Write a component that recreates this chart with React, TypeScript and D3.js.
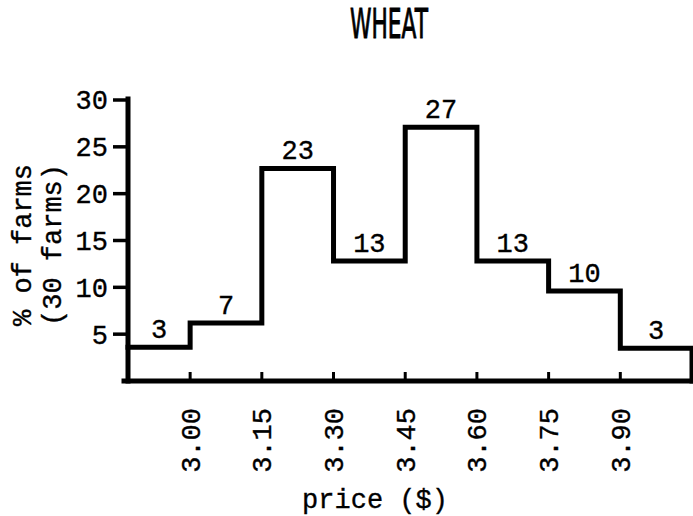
import * as d3 from 'd3';
import { useEffect, useRef } from 'react';

const WIDTH = 693;
const HEIGHT = 516;

// price breaks between the bins (tick positions on the x axis)
const PRICE_BREAKS = [3.0, 3.15, 3.3, 3.45, 3.6, 3.75, 3.9];
const PRICE_LABELS = ['3.00', '3.15', '3.30', '3.45', '3.60', '3.75', '3.90'];
// ends of the drawn axis (open-ended first and last bins)
const PRICE_MIN = 2.87;
const PRICE_MAX = 4.05;

// % of farms in each price bin, as drawn, and the numbers written over them
const BIN_PERCENT = [3.6, 6.2, 22.7, 12.8, 27.1, 12.8, 9.6, 3.5];
const BIN_LABELS = ['3', '7', '23', '13', '27', '13', '10', '3'];

const Y_TICKS = [5, 10, 15, 20, 25, 30];

const MONO = "'Liberation Mono', 'Courier New', monospace";
const TEXT_STROKE = 0.35;

const App: React.FC = () => {
    const svgRef = useRef<SVGSVGElement | null>(null);

    useEffect(() => {
        if (!svgRef.current) return;
        const svg = d3.select(svgRef.current);
        svg.selectAll('*').remove();

        const xScale = d3.scaleLinear().domain([PRICE_MIN, PRICE_MAX]).range([128, 692]);
        const yScale = d3.scaleLinear().domain([0, 30]).range([381, 100]);

        const binStarts = [PRICE_MIN, ...PRICE_BREAKS];
        const binEnds = [...PRICE_BREAKS, PRICE_MAX];

        // typewriter-ish text helper
        const typed = (sel: d3.Selection<SVGTextElement, any, any, any>) =>
            sel
                .style('font-family', MONO)
                .style('font-size', '27px')
                .attr('fill', '#000')
                .attr('stroke', '#000')
                .attr('stroke-width', TEXT_STROKE);

        // Title
        svg.append('text')
            .attr('x', 389)
            .attr('y', 38)
            .attr('text-anchor', 'middle')
            .attr('textLength', 78)
            .attr('lengthAdjust', 'spacingAndGlyphs')
            .attr('stroke', '#000')
            .attr('stroke-width', 1)
            .style('font-family', "'DejaVu Sans', sans-serif")
            .style('font-size', '40px')
            .text('WHEAT');

        // Histogram outline (step line)
        const pts: [number, number][] = binStarts.map((s, i) => [s, BIN_PERCENT[i]]);
        pts.push([PRICE_MAX, BIN_PERCENT[BIN_PERCENT.length - 1]]);
        pts.push([PRICE_MAX, 0]);
        const line = d3
            .line<[number, number]>()
            .x((d) => xScale(d[0]))
            .y((d) => yScale(d[1]))
            .curve(d3.curveStepAfter);

        svg.append('path')
            .attr('d', line(pts))
            .attr('fill', 'none')
            .attr('stroke', '#000')
            .attr('stroke-width', 5)
            .attr('stroke-linejoin', 'miter')
            .attr('stroke-linecap', 'square');

        // Axes
        svg.append('line')
            .attr('x1', xScale(PRICE_MIN))
            .attr('x2', xScale(PRICE_MIN))
            .attr('y1', yScale(30) - 1)
            .attr('y2', yScale(0))
            .attr('stroke', '#000')
            .attr('stroke-width', 5)
            .attr('stroke-linecap', 'square');

        svg.append('line')
            .attr('x1', xScale(PRICE_MIN) - 4)
            .attr('x2', xScale(PRICE_MAX))
            .attr('y1', yScale(0))
            .attr('y2', yScale(0))
            .attr('stroke', '#000')
            .attr('stroke-width', 5)
            .attr('stroke-linecap', 'square');

        // Y ticks
        const yTicks = svg
            .append('g')
            .selectAll('g')
            .data(Y_TICKS)
            .join('g')
            .attr('transform', (d) => `translate(0,${yScale(d)})`);

        yTicks
            .append('line')
            .attr('x1', 113)
            .attr('x2', xScale(PRICE_MIN))
            .attr('stroke', '#000')
            .attr('stroke-width', 3.5);

        yTicks
            .append('text')
            .attr('x', 108)
            .attr('dy', '0.35em')
            .attr('text-anchor', 'end')
            .call(typed)
            .text((d) => String(d));

        // X ticks
        const xTicks = svg
            .append('g')
            .selectAll('g')
            .data(PRICE_BREAKS)
            .join('g')
            .attr('transform', (d) => `translate(${xScale(d)},${yScale(0)})`);

        xTicks.append('line').attr('y1', 0).attr('y2', -9).attr('stroke', '#000').attr('stroke-width', 3);

        xTicks
            .append('text')
            .attr('transform', 'translate(0,27) rotate(-90)')
            .attr('dy', '0.35em')
            .attr('text-anchor', 'end')
            .call(typed)
            .text((_, i) => PRICE_LABELS[i]);

        // Value labels over each bin
        svg.append('g')
            .selectAll('text')
            .data(BIN_PERCENT)
            .join('text')
            .attr('x', (_, i) => (xScale(binStarts[i]) + xScale(binEnds[i])) / 2)
            .attr('y', (d) => yScale(d) - 9)
            .attr('text-anchor', 'middle')
            .call(typed)
            .text((_, i) => BIN_LABELS[i]);

        // Axis titles
        const yTitle = svg.append('g').attr('transform', 'translate(0,245)');
        ['% of farms', '(30 farms)'].forEach((t, i) => {
            yTitle
                .append('text')
                .attr('transform', `translate(${22 + i * 30},0) rotate(-90)`)
                .attr('dy', '0.35em')
                .attr('text-anchor', 'middle')
                .call(typed)
                .text(t);
        });

        svg.append('text')
            .attr('x', 375)
            .attr('y', 508)
            .attr('text-anchor', 'middle')
            .call(typed)
            .text('price ($)');
    }, []);

    return (
        <svg
            ref={svgRef}
            width={WIDTH}
            height={HEIGHT}
            style={{ position: 'absolute', left: 0, top: 0, display: 'block', background: '#fff' }}
        ></svg>
    );
};

export default App;
